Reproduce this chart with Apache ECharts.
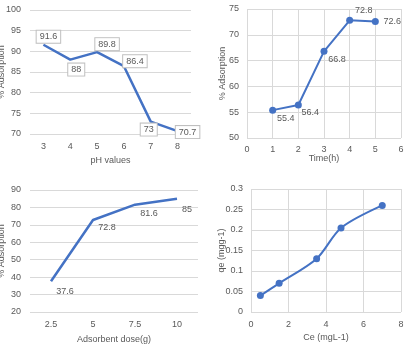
<!DOCTYPE html>
<html>
<head>
<meta charset="utf-8">
<script src="https://cdn.jsdelivr.net/npm/echarts@6/dist/echarts.min.js"></script>
<style>
  html, body { margin: 0; padding: 0; background: #fff; }
  #chart { width: 404px; height: 350px; }
</style>
</head>
<body>
<div id="chart"></div>
<script>
// pH panel
var phCategories = ['3', '4', '5', '6', '7', '8'];
var phValues = [91.6, 88, 89.8, 86.4, 73, 70.7];
// time panel
var timeHours = [1, 2, 3, 4, 5];
var timeValues = [55.4, 56.4, 66.8, 72.8, 72.6];
// dose panel
var doseCategories = ['2.5', '5', '7.5', '10'];
var doseValues = [37.6, 72.8, 81.6, 85];
// isotherm panel
var ceValues = [0.5, 1.5, 3.5, 4.8, 7];
var qeValues = [0.04, 0.07, 0.13, 0.205, 0.26];

// label offsets (px) for each point
var phOffsets = [[5, -8], [6, 10], [10, -8], [11, -5], [-2, 8], [10, 1]];
var timeOffsets = [[13, 8], [12, 8], [13, 8], [14, -10], [17, 0]];
var doseOffsets = [[14, 10], [14, 8], [14, 9], [10, 11]];

var FONT = 'Liberation Sans';
var TXT = '#595959';
var GRID = '#d9d9d9';
var BLUE = '#4472C4';

function axisText() {
  return { color: TXT, fontFamily: FONT, fontSize: 9 };
}

function catAxis(idx, data, name, gap) {
  return {
    type: 'category', gridIndex: idx, data: data,
    name: name, nameLocation: 'middle', nameGap: gap, nameMoveOverlap: false,
    nameTextStyle: axisText(),
    axisLine: { show: false }, axisTick: { show: false },
    axisLabel: Object.assign({ margin: 8 }, axisText()),
    splitLine: { show: false }
  };
}

function valAxis(idx, min, max, step, name, gap, margin) {
  return {
    type: 'value', gridIndex: idx, min: min, max: max, interval: step,
    name: name, nameLocation: 'middle', nameGap: gap, nameMoveOverlap: false,
    nameTextStyle: axisText(),
    axisLine: { show: false }, axisTick: { show: false },
    axisLabel: Object.assign({ margin: margin }, axisText()),
    splitLine: { show: true, lineStyle: { color: GRID, width: 1 } }
  };
}

function labelled(values, offsets, boxed) {
  return values.map(function (v, i) {
    var lbl = {
      show: true, position: 'inside', offset: offsets[i],
      color: TXT, fontFamily: FONT, fontSize: 9
    };
    if (boxed) {
      lbl.backgroundColor = '#fff';
      lbl.borderColor = '#bfbfbf';
      lbl.borderWidth = 1;
      lbl.padding = [2, 3, 1, 3];
    }
    return { value: v, label: lbl };
  });
}

var chart = echarts.init(document.getElementById('chart'));
chart.setOption({
  animation: false,
  grid: [
    { left: 30, top: 10, width: 161, height: 124, outerBoundsMode: 'none' },
    { left: 247, top: 9, width: 154, height: 129, outerBoundsMode: 'none' },
    { left: 30, top: 190, width: 168, height: 122, outerBoundsMode: 'none' },
    { left: 251, top: 189, width: 150, height: 123, outerBoundsMode: 'none' }
  ],
  xAxis: [
    catAxis(0, phCategories, 'pH values', 22),
    valAxis(1, 0, 6, 1, 'Time(h)', 16, 7),
    catAxis(2, doseCategories, 'Adsorbent dose(g)', 23),
    valAxis(3, 0, 8, 2, 'Ce (mgL-1)', 21, 8)
  ],
  yAxis: [
    valAxis(0, 70, 100, 5, '% Adsorption', 24, 9),
    valAxis(1, 50, 75, 5, '% Adsorption', 20, 8),
    valAxis(2, 20, 90, 10, '% Adsorption', 24, 9),
    valAxis(3, 0, 0.3, 0.05, 'qe (mgg-1)', 25, 8)
  ],
  series: [
    {
      type: 'line', xAxisIndex: 0, yAxisIndex: 0,
      data: labelled(phValues, phOffsets, true),
      symbol: 'circle', symbolSize: 0.1,
      itemStyle: { color: BLUE },
      lineStyle: { color: BLUE, width: 2.5 }
    },
    {
      type: 'line', xAxisIndex: 1, yAxisIndex: 1,
      data: labelled(timeValues, timeOffsets, false).map(function (d, i) {
        d.value = [timeHours[i], timeValues[i]];
        return d;
      }),
      symbol: 'circle', symbolSize: 7,
      itemStyle: { color: BLUE },
      lineStyle: { color: BLUE, width: 2 }
    },
    {
      type: 'line', xAxisIndex: 2, yAxisIndex: 2,
      data: labelled(doseValues, doseOffsets, false),
      symbol: 'circle', symbolSize: 0.1,
      itemStyle: { color: BLUE },
      lineStyle: { color: BLUE, width: 2.5 }
    },
    {
      type: 'line', xAxisIndex: 3, yAxisIndex: 3,
      data: ceValues.map(function (c, i) { return [c, qeValues[i]]; }),
      smooth: 0.3,
      symbol: 'circle', symbolSize: 7,
      itemStyle: { color: BLUE },
      lineStyle: { color: BLUE, width: 2 }
    }
  ]
});
</script>
</body>
</html>
